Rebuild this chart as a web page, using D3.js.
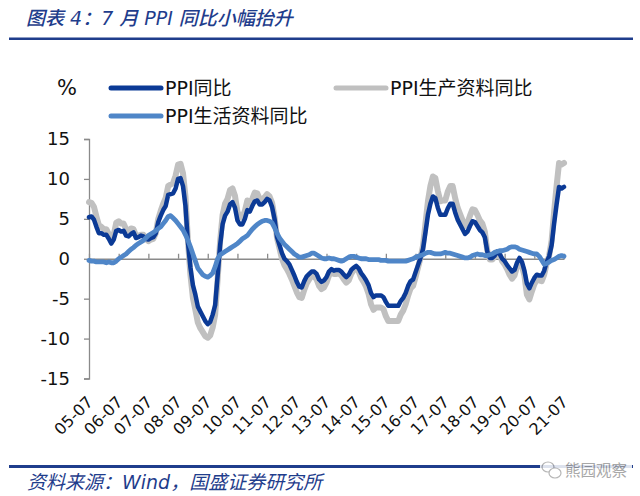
<!DOCTYPE html>
<html><head><meta charset="utf-8">
<script src="https://cdn.jsdelivr.net/npm/d3@7"></script>
<style>
html,body{margin:0;padding:0;background:#fff;}
svg{display:block;}
</style></head>
<body>
<svg id="chart" width="640" height="496"></svg>
<script>
// ---- data (monthly, 2005-07 .. 2021-07) ----
const ppi = [
 5.2,5.3,4.9,4.0,3.2,3.2,
 3.0,3.0,2.5,1.9,2.4,3.5,3.6,3.4,3.5,2.9,2.8,3.1,
 3.3,2.6,2.7,2.9,2.8,2.5,2.4,2.6,2.7,3.2,4.6,5.4,
 6.1,6.6,8.0,8.1,8.2,8.8,10.0,10.1,9.1,6.6,2.0,-1.1,
 -3.3,-4.5,-6.0,-6.6,-7.2,-7.8,-8.2,-7.9,-7.0,-5.8,-2.1,1.7,
 4.3,5.4,5.9,6.8,7.1,6.4,4.8,4.3,4.3,5.0,6.1,5.9,
 6.6,7.2,7.3,6.8,6.8,7.1,7.5,7.3,6.5,5.0,2.7,1.7,
 0.7,0.0,-0.3,-0.7,-1.4,-2.1,-2.9,-3.5,-3.6,-2.8,-2.2,-1.9,
 -1.6,-1.6,-1.9,-2.6,-2.9,-2.7,-2.3,-1.6,-1.3,-1.5,-1.4,-1.4,
 -1.6,-2.0,-2.3,-2.0,-1.4,-1.1,-0.9,-1.2,-1.8,-2.2,-2.7,-3.3,
 -4.3,-4.8,-4.6,-4.6,-4.6,-4.8,-5.4,-5.9,-5.9,-5.9,-5.9,-5.9,
 -5.3,-4.9,-4.3,-3.4,-2.8,-2.6,-1.7,-0.8,0.1,1.2,3.3,5.5,
 6.9,7.8,7.6,6.4,5.5,5.5,5.5,6.3,6.9,6.9,5.8,4.9,
 4.3,3.7,3.1,3.4,4.1,4.7,4.6,4.1,3.6,3.3,2.7,0.9,
 0.1,0.1,0.4,0.9,0.6,0.0,-0.3,-0.8,-1.2,-1.6,-1.4,-0.5,
 0.1,-0.4,-1.5,-3.1,-3.7,-3.0,-2.4,-2.0,-2.1,-2.1,-1.5,-0.4,
 0.3,1.7,4.4,6.8,9.0,8.8,9.0
];
const ppiProducer = [
 7.1,7.0,6.5,5.3,4.2,4.0,
 3.7,3.7,3.1,2.4,3.0,4.5,4.7,4.4,4.4,3.7,3.5,3.8,
 3.7,2.9,2.9,3.0,3.0,2.5,2.2,2.4,2.5,3.2,5.0,6.0,
 6.9,7.6,9.1,9.3,9.5,10.4,11.8,11.9,10.7,7.8,2.2,-2.0,
 -4.9,-6.4,-8.0,-8.7,-9.2,-9.7,-9.9,-9.6,-8.6,-7.0,-2.5,2.2,
 5.5,6.9,7.5,8.6,8.8,7.9,5.9,5.2,5.2,6.0,7.3,6.9,
 7.5,8.3,8.2,7.5,7.4,7.7,8.1,7.8,7.0,5.2,2.6,1.3,
 0.0,-0.8,-1.3,-1.9,-2.6,-3.4,-4.2,-4.8,-4.9,-3.9,-3.1,-2.6,
 -2.1,-2.2,-2.6,-3.4,-3.8,-3.6,-3.0,-2.1,-1.7,-1.9,-1.9,-1.8,
 -2.1,-2.6,-3.0,-2.7,-1.9,-1.4,-1.2,-1.6,-2.4,-2.9,-3.5,-4.4,
 -5.7,-6.4,-6.1,-6.1,-6.1,-6.3,-7.2,-7.8,-7.8,-7.8,-7.8,-7.8,
 -7.0,-6.5,-5.7,-4.6,-3.7,-3.4,-2.3,-1.1,0.1,1.6,4.4,7.2,
 9.1,10.3,10.1,8.5,7.2,7.3,7.3,8.4,9.1,9.1,7.6,6.4,
 5.6,4.8,4.1,4.5,5.4,6.2,6.1,5.5,4.8,4.4,3.4,1.0,
 -0.1,-0.1,0.3,0.8,0.5,-0.3,-0.7,-1.3,-2.0,-2.5,-2.1,-1.0,
 -0.2,-0.9,-2.1,-4.5,-5.1,-4.1,-3.2,-2.6,-2.7,-2.8,-2.0,-0.6,
 0.4,2.3,5.9,9.1,12.0,11.8,12.0
];
const ppiConsumer = [
 -0.2,-0.3,-0.3,-0.4,-0.4,-0.4,
 -0.4,-0.5,-0.4,-0.5,-0.5,-0.3,0.0,0.2,0.4,0.6,0.9,1.2,
 1.4,1.7,1.9,2.1,2.3,2.6,2.9,3.1,3.3,3.5,3.8,4.0,
 4.4,4.8,5.3,5.4,5.1,4.8,4.4,4.0,3.6,3.0,2.3,1.5,
 0.6,-0.3,-1.2,-1.6,-2.0,-2.2,-2.3,-2.1,-1.8,-1.0,0.0,0.5,
 0.7,0.9,1.1,1.3,1.5,1.7,1.9,2.2,2.5,2.7,2.9,3.3,
 3.7,4.0,4.3,4.5,4.7,4.8,4.8,4.7,4.5,3.9,3.2,2.6,
 2.2,1.8,1.5,1.2,0.9,0.6,0.4,0.2,0.2,0.3,0.4,0.5,
 0.7,0.7,0.5,0.3,0.1,0.0,0.0,0.1,0.0,0.0,-0.1,-0.2,
 -0.3,-0.2,0.0,0.2,0.3,0.3,0.2,0.1,0.0,0.0,0.0,-0.1,
 -0.1,-0.1,-0.1,-0.1,-0.2,-0.2,-0.2,-0.3,-0.3,-0.3,-0.3,-0.3,
 -0.3,-0.3,-0.3,-0.2,-0.1,0.0,0.2,0.3,0.4,0.5,0.7,0.8,
 0.8,0.7,0.6,0.6,0.6,0.7,0.8,0.7,0.7,0.6,0.5,0.4,
 0.3,0.2,0.1,0.1,0.2,0.4,0.5,0.6,0.5,0.5,0.4,0.4,
 0.5,0.6,0.8,0.9,1.0,1.0,1.1,1.2,1.4,1.5,1.5,1.4,
 1.2,1.1,1.0,0.9,0.8,0.7,0.6,0.6,0.3,-0.2,-0.7,-0.6,
 -0.4,-0.2,-0.1,0.1,0.3,0.4,0.3
];
const xTickLabels = ["05-07","06-07","07-07","08-07","09-07","10-07","11-07","12-07",
  "13-07","14-07","15-07","16-07","17-07","18-07","19-07","20-07","21-07"];
const yTicks = [15,10,5,0,-5,-10,-15];
const seriesNames = ["PPI同比","PPI生产资料同比","PPI生活资料同比"];
const titleText = "图表 4：7 月 PPI 同比小幅抬升";
const sourceText = "资料来源：Wind，国盛证券研究所";
const watermarkText = "熊园观察";

// ---- drawing ----
const svg = d3.select("#chart");
const navy = "#1f3d8c";
const colors = {ppi:"#0b3a96", prod:"#c0c0c0", cons:"#4f86c8"};
const numFont = "'DejaVu Sans', Verdana, sans-serif";
const cjkFont = "'DejaVu Sans','Noto Sans CJK SC', sans-serif";

// title
svg.append("text").attr("x",26).attr("y",25)
  .attr("font-family",cjkFont).attr("font-size",19).attr("font-style","italic")
  .attr("font-weight",500)
  .attr("fill",navy).text(titleText);
svg.append("rect").attr("x",9).attr("y",37.5).attr("width",624).attr("height",2.5).attr("fill",navy);

const x = d3.scaleLinear().domain([0,192]).range([89,564]);
const y = d3.scaleLinear().domain([-15,15]).range([378.5,139]);

// y axis
const yAxis = svg.append("g").attr("transform","translate(89,0)")
  .call(d3.axisLeft(y).tickValues(yTicks).tickSize(5).tickPadding(14).tickFormat(d3.format("d")));
yAxis.select(".domain").attr("stroke","#8a8a8a").attr("stroke-width",1.3);
yAxis.selectAll(".tick line").attr("stroke","#8a8a8a").attr("stroke-width",1.3);
yAxis.selectAll("text").attr("font-family",numFont).attr("font-size",18).attr("fill","#111")
  .text(d => d < 0 ? "-" + Math.abs(d) : d);

// x axis at zero
const tickIdx = xTickLabels.map((d,i)=>i*12);
const xAxis = svg.append("g").attr("transform",`translate(0,${y(0)})`)
  .call(d3.axisBottom(x).tickValues(tickIdx).tickSize(-5).tickSizeOuter(0).tickFormat(""));
xAxis.select(".domain").attr("stroke","#8a8a8a").attr("stroke-width",1.3);
xAxis.selectAll(".tick line").attr("stroke","#8a8a8a").attr("stroke-width",1.3);

// x labels
svg.append("g").selectAll("text").data(xTickLabels).join("text")
  .attr("transform",(d,i)=>`translate(${x(i*12)+5},${403}) rotate(-45)`)
  .attr("text-anchor","end")
  .attr("font-family",numFont).attr("font-size",16).attr("fill","#111")
  .text(d=>d);

// lines
const line = d3.line().x((d,i)=>x(i)).y(d=>y(d)).curve(d3.curveLinear);
svg.append("path").datum(ppiProducer).attr("d",line).attr("fill","none")
  .attr("stroke",colors.prod).attr("stroke-width",6).attr("stroke-linejoin","round").attr("stroke-linecap","round");
svg.append("path").datum(ppi).attr("d",line).attr("fill","none")
  .attr("stroke",colors.ppi).attr("stroke-width",4.5).attr("stroke-linejoin","round").attr("stroke-linecap","round");
svg.append("path").datum(ppiConsumer).attr("d",line).attr("fill","none")
  .attr("stroke",colors.cons).attr("stroke-width",4.8).attr("stroke-linejoin","round").attr("stroke-linecap","round");

// legend
svg.append("text").attr("x",57).attr("y",95).attr("font-family",numFont)
  .attr("font-size",21).attr("fill","#111").text("%");
const legendItems = [
  {name:seriesNames[0], color:colors.ppi, lx:111, ly:88},
  {name:seriesNames[1], color:colors.prod, lx:336, ly:88},
  {name:seriesNames[2], color:colors.cons, lx:111, ly:116}
];
const lg = svg.append("g").selectAll("g").data(legendItems).join("g");
lg.append("line").attr("x1",d=>d.lx).attr("x2",d=>d.lx+50).attr("y1",d=>d.ly).attr("y2",d=>d.ly)
  .attr("stroke",d=>d.color).attr("stroke-width",5).attr("stroke-linecap","round");
lg.append("text").attr("x",d=>d.lx+54).attr("y",d=>d.ly).attr("dy","0.36em")
  .attr("font-family",cjkFont).attr("font-size",19).attr("fill","#111").text(d=>d.name);

// footer
svg.append("rect").attr("x",9).attr("y",465).attr("width",624).attr("height",3).attr("fill",navy);
svg.append("text").attr("x",27).attr("y",489)
  .attr("font-family",cjkFont).attr("font-size",19).attr("font-style","italic")
  .attr("fill",navy).text(sourceText);
// watermark
const wm = svg.append("g").attr("opacity",0.85);
wm.append("rect").attr("x",540).attr("y",458).attr("width",92).attr("height",24).attr("fill","#fff");
wm.append("ellipse").attr("cx",548).attr("cy",467).attr("rx",6).attr("ry",5).attr("fill","none").attr("stroke","#aaa").attr("stroke-width",1.2);
wm.append("ellipse").attr("cx",555).attr("cy",473).attr("rx",6).attr("ry",5).attr("fill","#fff").attr("stroke","#aaa").attr("stroke-width",1.2);
wm.append("text").attr("x",565).attr("y",471).attr("dy","0.35em")
  .attr("font-family","'Noto Sans CJK SC', sans-serif").attr("font-size",15.5).attr("fill","#999")
  .text(watermarkText);
</script>
</body></html>
